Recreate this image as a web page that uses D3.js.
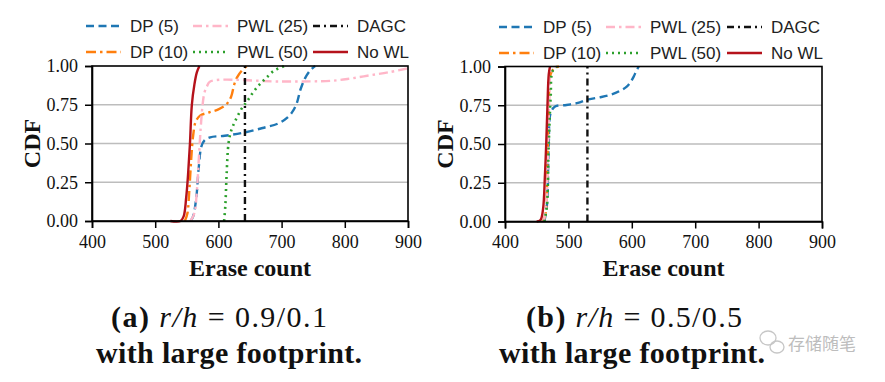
<!DOCTYPE html>
<html><head><meta charset="utf-8">
<script src="https://cdn.jsdelivr.net/npm/d3@7"></script>
<style>
body{margin:0;background:#fff}svg{display:block}
.serif{font-family:"Liberation Serif","Times New Roman",Times,serif}
.sans{font-family:"Liberation Sans",Arial,Helvetica,sans-serif}
.cjk{font-family:"Noto Sans CJK SC",sans-serif}
</style>
</head><body>
<svg id="c" width="885" height="382"></svg>
<script>
// ---- data ----
const xTicks = [400, 500, 600, 700, 800, 900];
const yTicks = [0, 0.25, 0.5, 0.75, 1.0];
const seriesNames = ["DP (5)", "DP (10)", "PWL (25)", "PWL (50)", "DAGC", "No WL"];

// panel (a) r/h = 0.9/0.1 : [erase count, CDF]
const aDP5 = [[556,0],[560,0.03],[565,0.15],[569,0.35],[573,0.48],[578,0.52],[587,0.54],[610,0.55],[640,0.57],[670,0.60],[695,0.63],[710,0.67],[718,0.71],[724,0.76],[730,0.85],[737,0.92],[745,0.97],[753,1.0]];
const aDP10 = [[547,0],[551,0.05],[554,0.2],[557,0.4],[560,0.55],[564,0.64],[571,0.68],[585,0.70],[600,0.72],[612,0.75],[620,0.8],[625,0.88],[630,0.93],[637,0.97],[645,1.0]];
const aPWL25 = [[556,0],[562,0.05],[566,0.2],[569,0.4],[572,0.6],[575,0.75],[578,0.83],[582,0.87],[587,0.9],[700,0.9],[780,0.905],[810,0.92],[840,0.94],[870,0.96],[900,0.985]];
const aPWL50 = [[609,0],[611,0.1],[613,0.3],[616,0.5],[620,0.58],[626,0.64],[636,0.72],[645,0.77],[655,0.83],[665,0.88],[675,0.92],[688,0.97],[705,1.0]];
const aDAGC = [[642,0],[642,1.0]];
const aNoWL = [[524,0],[540,0],[545,0.03],[549,0.15],[552,0.3],[555,0.5],[558,0.75],[562,0.88],[566,0.96],[570,1.0]];

// panel (b) r/h = 0.5/0.5
const bDP5 = [[462,0],[466,0.1],[469,0.5],[472,0.7],[479,0.742],[497,0.752],[515,0.765],[529,0.785],[548,0.8],[566,0.817],[580,0.84],[592,0.87],[598,0.9],[603,0.935],[607,0.97],[611,1.0]];
const bDP10 = [[460,0],[464,0.05],[467,0.4],[469,0.75],[472,0.95],[478,0.99],[485,1.0]];
const bPWL25 = [[461,0],[465,0.1],[468,0.5],[470,0.8],[473,0.97],[480,1.0]];
const bPWL50 = [[462,0],[466,0.1],[469,0.5],[472,0.8],[475,0.97],[482,1.0]];
const bDAGC = [[530,0],[530,1.0]];
const bNoWL = [[450,0],[456,0.01],[460,0.08],[463,0.3],[465,0.5],[467,0.75],[469,0.95],[471,1.0]];

const captionLetters = ["(a)", "(b)"];
const captionRatios = ["0.9/0.1", "0.5/0.5"];

// ---- styles ----
const styles = [
  {color:"#1f77b4", dash:"8,4.5", w:2.4},
  {color:"#ff7f0e", dash:"10,4,2.5,4", w:2.4},
  {color:"#ffb6c8", dash:"9,4,2.5,4", w:2.4},
  {color:"#2ca02c", dash:"2,4", w:2.6},
  {color:"#111111", dash:"7,4,2,4", w:2.4},
  {color:"#b5121b", dash:null, w:2.4}
];

const svg = d3.select("#c");

const panels = [
  {data:[aDP5,aDP10,aPWL25,aPWL50,aDAGC,aNoWL], x0:92, x1:408, y0:221, y1:66, legX:[86,193,313], legY:[26,52], ylabX:32, capC:[219,229]},
  {data:[bDP5,bDP10,bPWL25,bPWL50,bDAGC,bNoWL], x0:505, x1:822, y0:221.5, y1:66.5, legX:[499,606,727], legY:[27,53], ylabX:445, capC:[634,632]}
];

panels.forEach((p, pi) => {
  const x = d3.scaleLinear().domain([400, 900]).range([p.x0, p.x1]);
  const y = d3.scaleLinear().domain([0, 1]).range([p.y0, p.y1]);
  const g = svg.append("g");

  // grid
  g.selectAll("line.grid").data(yTicks.filter(t => t > 0 && t < 1)).enter().append("line")
    .attr("x1", p.x0).attr("x2", p.x1).attr("y1", d => y(d)).attr("y2", d => y(d))
    .attr("stroke", "#bdbdbd").attr("stroke-width", 1.3);

  // curves
  const clipId = "clip" + pi;
  svg.append("clipPath").attr("id", clipId).append("rect")
    .attr("x", p.x0).attr("y", p.y1 - 2).attr("width", p.x1 - p.x0).attr("height", p.y0 - p.y1 + 4);
  const lineC = d3.line().x(d => x(d[0])).y(d => y(d[1])).curve(d3.curveCatmullRom.alpha(0.5));
  const lineLin = d3.line().x(d => x(d[0])).y(d => y(d[1]));
  p.data.forEach((s, i) => {
    const st = styles[i];
    const path = g.append("path").datum(s)
      .attr("d", i === 4 ? lineLin : lineC)
      .attr("fill", "none").attr("stroke", st.color).attr("stroke-width", st.w)
      .attr("clip-path", `url(#${clipId})`);
    if (st.dash) path.attr("stroke-dasharray", st.dash);
  });

  // box
  g.append("rect").attr("x", p.x0).attr("y", p.y1).attr("width", p.x1 - p.x0).attr("height", p.y0 - p.y1)
    .attr("fill", "none").attr("stroke", "#000").attr("stroke-width", 1.6);

  // axes
  const ax = g.append("g").attr("transform", `translate(0,${p.y0})`)
    .call(d3.axisBottom(x).tickValues(xTicks).tickSize(7).tickPadding(7).tickFormat(d3.format("d")));
  const ay = g.append("g").attr("transform", `translate(${p.x0},0)`)
    .call(d3.axisLeft(y).tickValues(yTicks).tickSize(7).tickPadding(7).tickFormat(d3.format(".2f")));
  [ax, ay].forEach(a => {
    a.attr("font-family", null).attr("font-size", null);
    a.select(".domain").attr("stroke", "#000").attr("stroke-width", 1.6);
    a.selectAll(".tick line").attr("stroke", "#000").attr("stroke-width", 1.5);
    a.selectAll("text").attr("class", "serif").style("font-size", "18px").attr("fill", "#111");
  });

  // axis titles
  g.append("text").attr("class", "serif").attr("x", (p.x0 + p.x1) / 2).attr("y", 276).attr("text-anchor", "middle")
    .style("font-weight", "bold").style("font-size", "24px")
    .attr("fill", "#111").text("Erase count");
  g.append("text").attr("class", "serif").attr("transform", `translate(${p.ylabX + 8},${(p.y0 + p.y1) / 2}) rotate(-90)`)
    .attr("text-anchor", "middle")
    .style("font-weight", "bold").style("font-size", "24px")
    .attr("fill", "#111").text("CDF");

  // legend (3 columns x 2 rows, column-major)
  seriesNames.forEach((name, i) => {
    const col = Math.floor(i / 2), row = i % 2;
    const lx = p.legX[col], ly = p.legY[row];
    const st = styles[i];
    const l = g.append("line").attr("x1", lx).attr("x2", lx + 35).attr("y1", ly).attr("y2", ly)
      .attr("stroke", st.color).attr("stroke-width", st.w);
    if (st.dash) l.attr("stroke-dasharray", st.dash);
    g.append("text").attr("class", "sans").attr("x", lx + 44).attr("y", ly + 6)
      .style("font-size", "17px")
      .attr("fill", "#222").text(name);
  });

  // caption
  const cap = svg.append("text").attr("class", "serif").attr("x", p.capC[0]).attr("y", 327).attr("text-anchor", "middle")
    .attr("textLength", 216).attr("lengthAdjust", "spacing")
    .style("font-size", "30px").attr("fill", "#111");
  cap.append("tspan").style("font-weight", "bold").text(captionLetters[pi] + " ");
  cap.append("tspan").style("font-style", "italic").text("r/h");
  cap.append("tspan").text(" = " + captionRatios[pi]);
  svg.append("text").attr("class", "serif").attr("x", p.capC[1]).attr("y", 363).attr("text-anchor", "middle")
    .attr("textLength", 266).attr("lengthAdjust", "spacing")
    .style("font-size", "30px").style("font-weight", "bold")
    .attr("fill", "#111").text("with large footprint.");
});

// watermark
const wm = svg.append("g").attr("opacity", 0.55);
wm.append("ellipse").attr("cx", 768).attr("cy", 338).attr("rx", 8).attr("ry", 7).attr("fill", "none").attr("stroke", "#999").attr("stroke-width", 1.3);
wm.append("ellipse").attr("cx", 777).attr("cy", 347).attr("rx", 7).attr("ry", 6).attr("fill", "none").attr("stroke", "#999").attr("stroke-width", 1.3);
wm.append("text").attr("class", "cjk").attr("x", 788).attr("y", 350)
  .style("font-size", "17px").attr("fill", "#888").text("存储随笔");
</script>
</body></html>
